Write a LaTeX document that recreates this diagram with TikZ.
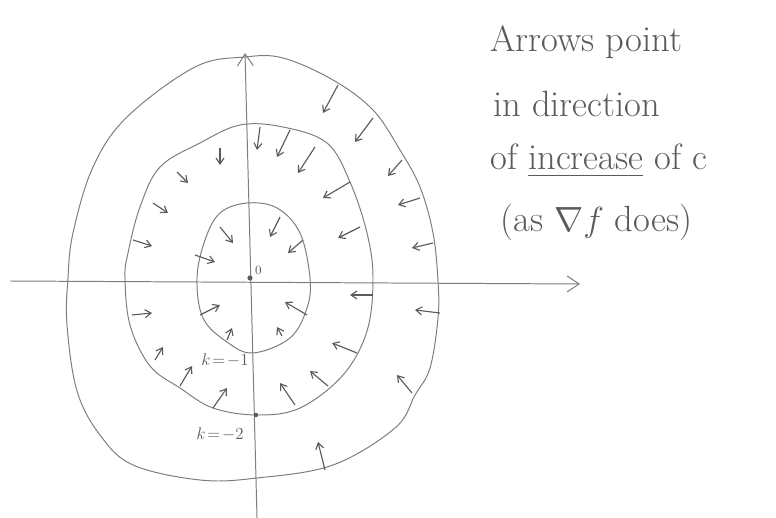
\documentclass[tikz,border=0pt]{standalone}
\usepackage{amsmath,amssymb}
\usepackage{xcolor}
\usepackage{tikz}
\usetikzlibrary{arrows.meta,positioning}
\definecolor{cPen}{RGB}{125,125,125}
\definecolor{cInk}{RGB}{90,90,90}

\begin{document}
\begin{tikzpicture}[x=0.025cm,y=-0.025cm,
   lvl/.style={cPen,line width=0.7pt},
   ax/.style={cPen,line width=0.7pt,-{Straight Barb[length=3mm,width=4mm]}},
   tk/.style={cInk,line width=0.8pt,-{Straight Barb[length=1.5mm,width=2mm]}},
   lab/.style={cInk,font=\large,inner sep=1pt},
   txt/.style={cInk,font=\fontsize{26}{32}\selectfont,anchor=base west,inner sep=0pt}]
  \useasboundingbox (0,0) rectangle (776,518);
  % axes
  \coordinate (xl) at (10,281);  \coordinate (xr) at (580,284);
  \coordinate (yb) at (257,518); \coordinate (yt) at (245,53);
  \draw[ax] (xl) -- (xr);
  \draw[ax] (yb) -- (yt);
  % level curves
  \draw[lvl] plot[smooth cycle,tension=0.6] coordinates {(245,57) (283,58) (333,80) (373,110) (400,150) (420,187) (433,233) (438,281) (438,318) (430,368) (415,395) (395,428) (333,465) (257,478) (200,480) (133,465) (100,435) (77,391) (67,325) (68,278) (73,233) (93,167) (127,117) (195,67)};
  \draw[lvl] plot[smooth cycle,tension=0.6] coordinates {(240,125) (283,127) (327,143) (350,182) (367,233) (373,278) (367,331) (343,375) (300,408) (257,415) (213,408) (180,388) (150,366) (130,325) (125,278) (128,253) (140,207) (160,167) (200,143)};
  \draw[lvl] plot[smooth cycle,tension=0.6] coordinates {(247,203) (277,208) (300,233) (310,278) (307,308) (290,338) (253,353) (227,342) (203,318) (197,278) (205,240) (220,213)};
  % points and labels
  \node[circle,fill=cInk,inner sep=1.3pt] (o) at (250,278) {};
  \node[circle,fill=cInk,inner sep=1.1pt] (m) at (256,415) {};
  \node[lab,above right=0pt and 1pt of o] (ol) {\small 0};
  \node[lab] (k1) at (225,360) {$k\!=\!-1$};
  \node[lab] (k2) at (220,434) {$k\!=\!-2$};
  % arrows towards larger c
  \foreach \xa/\ya/\xb/\yb in {338/85/323/113, 373/118/355/142, 402/160/388/176, 420/198/398/205,
                     433/243/412/248, 440/313/415/310, 412/393/397/375, 325/470/318/442,
                     260/127/257/150, 290/130/277/157, 315/147/298/173, 350/182/323/198,
                     360/227/338/238, 373/295/350/295, 357/353/332/343, 328/386/310/371,
                     295/405/280/383, 213/408/227/388, 180/386/192/366, 155/360/163/347,
                     132/315/152/313, 133/240/152/246, 153/203/168/213, 177/172/188/183,
                     220/148/220/165, 220/227/233/243, 195/255/215/262, 280/217/270/237,
                     303/240/288/253, 307/315/285/302, 282/336/277/327, 227/340/232/328,
                     200/315/220/305}
    \draw[tk] (\xa,\ya) -- (\xb,\yb);
  % note
  \node[txt] (t1) at (490,52)  {Arrows point};
  \node[txt] (t2) at (493,117) {in direction};
  \node[txt] (t3) at (490,170) {of \underline{increase} of c};
  \node[txt] (t4) at (500,232) {(as $\nabla f$ does)};
\end{tikzpicture}
\end{document}
